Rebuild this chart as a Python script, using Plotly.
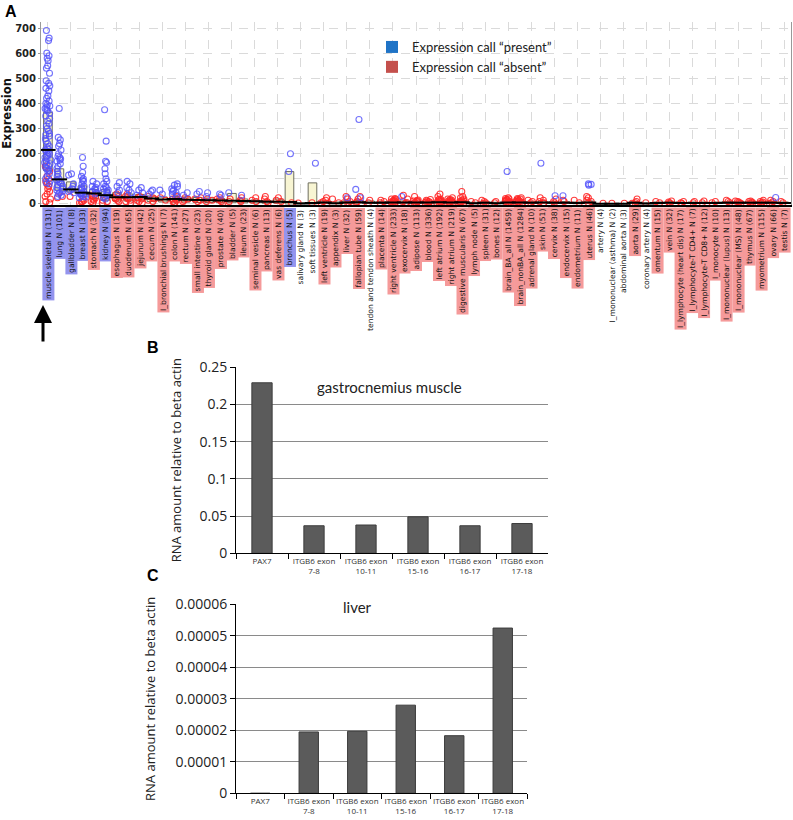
import plotly.graph_objects as go

# ---------------- Panel A data ----------------
categories = [
    "muscle skeletal N (131)", "lung N (101)", "gallbladder N (8)", "breast N (33)", "stomach N (32)",
    "kidney N (94)", "esophagus N (19)", "duodenum N (65)", "jejunum N (42)", "cecum N (25)",
    "I_bronchial brushings N (7)", "colon N (141)", "rectum N (27)", "small intestine N (23)",
    "thyroid gland N (20)", "prostate N (40)", "bladder N (5)", "ileum N (23)", "seminal vesicle N (6)",
    "pancreas N (13)", "vas deferens N (6)", "bronchus N (5)", "salivary gland N (3)", "soft tissues N (3)",
    "left ventricle N (19)", "appendix N (3)", "liver N (32)", "fallopian tube N (59)",
    "tendon and tendon sheath N (4)", "placenta N (14)", "right ventricle N (233)", "exocervix N (18)",
    "adipose N (113)", "blood N (336)", "left atrium N (192)", "right atrium N (219)",
    "digestive muscularis N (67)", "lymph node N (5)", "spleen N (31)", "bones N (12)",
    "brain_BA_all N (1459)", "brain_nonBA_all N (1284)", "adrenal gland N (10)", "skin N (51)",
    "cervix N (38)", "endocervix N (15)", "endometrium N (11)", "uterus N (46)", "artery N (4)",
    "I_mononuclear (asthma) N (2)", "abdominal aorta N (3)", "aorta N (29)", "coronary artery N (4)",
    "omentum N (15)", "vein N (32)", "I_lymphocyte (heart dis) N (17)", "I_lymphocyte-T CD4+ N (7)",
    "I_lymphocyte-T CD8+ N (12)", "I_monocyte N (10)", "I_mononuclear (lupus) N (13)",
    "I_mononuclear (MS) N (48)", "thymus N (67)", "myometrium N (115)", "ovary N (66)", "testis N (7)",
]
# p = call "present" (blue label), a = "absent" (red label), n = no label colour
call_class = list("ppppapaaaaaaaaaaaaaaapnnaaaanaaaaaaaaaaaaaaaaaaannnanaaaaaaaaaaaa")

box_q1 = [132, 55, 48, 30, 22, 15, 12, 12, 12, 10, 8, 8, 8, 6, 6, 5, 5, 5, 4, 3, 3, 0, 1, 0,
          2, 1, 2, 3, 2, 2, 3, 3, 3, 3, 3, 3, 3, 1, 2, 1, 3, 3, 2, 3, 2, 2, 1, 3, 0, 0, 0, 2, 1,
          1, 2, 2, 2, 2, 2, 2, 2, 2, 2, 2, 2]
box_med = [215, 98, 58, 45, 42, 35, 27, 27, 28, 22, 18, 20, 17, 16, 15, 14, 13, 12, 11, 9, 9, 8, 2, 4,
           6, 3, 6, 7, 5, 5, 6, 6, 6, 6, 7, 6, 7, 3, 5, 3, 6, 6, 5, 6, 5, 5, 4, 6, 1, 1, 1, 5, 2,
           4, 5, 4, 4, 4, 4, 5, 5, 5, 5, 5, 4]
box_q3 = [365, 140, 88, 72, 58, 57, 45, 40, 38, 32, 28, 30, 28, 26, 24, 22, 42, 20, 16, 14, 20, 129, 5, 84,
          12, 8, 12, 14, 12, 10, 12, 12, 12, 11, 14, 12, 14, 7, 10, 7, 12, 12, 10, 12, 10, 10, 8, 12, 2, 2, 2,
          10, 4, 8, 9, 8, 8, 8, 8, 10, 9, 9, 10, 10, 8]

present_vals = [
    [690, 660, 650, 600, 590, 580, 570, 550, 540, 520, 490, 480, 470, 460, 450, 430, 420, 410, 400, 395,
     390, 385, 380, 375, 370, 360, 350, 340, 330, 320, 310, 300, 290, 280, 275, 270, 260, 250, 240, 230,
     225, 220, 215, 210, 205, 200, 195, 190, 185, 180, 175, 170, 165, 160, 155, 150, 145, 140, 135, 130,
     120, 110, 100, 90, 85, 80],
    [380, 265, 255, 240, 230, 215, 200, 190, 185, 180, 175, 170, 160, 150, 140, 130, 120, 110, 100, 95,
     90, 85, 80, 75, 70, 65, 60, 55, 50, 45, 40, 35, 30],
    [120, 115, 80, 70, 60, 55, 50, 45],
    [185, 150, 125, 110, 100, 95, 90, 80, 70, 65, 60, 55, 50, 45, 42, 40, 38, 35, 30, 28, 25],
    [90, 80, 70, 65, 60, 55, 50, 45, 40],
    [375, 250, 170, 165, 140, 120, 100, 90, 80, 70, 65, 60, 55, 50, 45, 40, 35, 30, 25, 20],
    [85, 70, 55, 45], [90, 80, 65, 55, 45, 35], [65, 55, 45, 35], [55, 50, 40], [55, 40],
    [80, 75, 70, 60, 55, 50, 45, 40, 35], [45, 35], [50, 40], [45, 30], [40, 35], [45], [35], [], [], [],
    [200, 129], [], [162], [], [], [25], [336, 58, 25], [], [], [], [30], [], [], [], [], [], [], [], [],
    [129], [], [], [162], [33], [33], [], [80, 78, 75], [], [], [], [], [], [], [], [], [], [], [], [],
    [], [], [], [26], [],
]
absent_vals = [
    [150, 130, 110, 100, 90, 80, 70, 60, 50, 40, 30, 20, 10, 5],
    [30, 25], [30], [20, 15, 10, 8, 5], [35, 30, 25, 20, 15, 10, 5], [15, 10, 5],
    [40, 30, 25, 20, 15, 10], [40, 30, 25, 20, 15, 10, 5], [30, 25, 20, 15, 10, 5], [30, 25, 20, 15, 10],
    [25, 15], [30, 25, 20, 15, 10, 5, 3], [25, 20, 15, 10], [25, 20, 15, 10], [20, 15, 10],
    [25, 20, 15, 10, 5], [20, 10], [25, 15, 10], [25, 15, 10], [30, 20, 10, 5], [25, 15, 10], [5], [4], [5],
    [25, 15, 10, 5, 3], [20, 5], [30, 20, 10, 5, 3], [30, 20, 10, 6, 3], [15, 5], [15, 10, 5],
    [22, 20, 18, 16, 14, 12, 10, 8, 6, 4, 2],
    [35, 20, 10, 6, 3], [30, 16, 14, 12, 10, 8, 6, 4, 2], [18, 15, 12, 10, 8, 6, 4, 2],
    [40, 30, 20, 18, 16, 14, 12, 10, 8, 6, 4, 2], [25, 20, 18, 16, 14, 12, 10, 8, 6, 4, 2],
    [50, 30, 25, 20, 15, 12, 10, 8, 6, 4, 2], [10, 5], [15, 10, 5, 3], [10, 5],
    [25, 22, 20, 18, 16, 14, 12, 10, 8, 6, 4, 2], [25, 22, 20, 18, 16, 14, 12, 10, 8, 6, 4, 2],
    [15, 10, 5], [25, 15, 10, 5, 3], [20, 10, 5], [15, 10], [15, 5], [30, 25, 15, 10, 5], [3], [3], [3],
    [20, 10, 5, 3], [5], [10, 5], [12, 8, 5, 3], [10, 5, 3], [10, 5], [12, 5], [10, 5], [15, 10, 5],
    [12, 10, 8, 5, 3], [12, 10, 8, 5, 3], [15, 10, 8, 5, 3], [15, 10, 5, 3], [10, 5],
]
a_ticks = [0, 100, 200, 300, 400, 500, 600, 700]

# ---------------- Panel B / C data ----------------
genes = ["PAX7", "ITGB6 exon<br>7-8", "ITGB6 exon<br>10-11", "ITGB6 exon<br>15-16",
         "ITGB6 exon<br>16-17", "ITGB6 exon<br>17-18"]
muscle_vals = [0.229, 0.037, 0.038, 0.049, 0.037, 0.040]
liver_vals = [0.0, 0.0000195, 0.0000197, 0.000028, 0.0000183, 0.0000525]
b_ticks = [0, 0.05, 0.1, 0.15, 0.2, 0.25]
c_ticks = [0, 0.00001, 0.00002, 0.00003, 0.00004, 0.00005, 0.00006]
c_tick_text = ["0", "0.00001", "0.00002", "0.00003", "0.00004", "0.00005", "0.00006"]

W, H = 793, 820
def px_x(p): return p / W
def px_y(p): return 1 - p / H

fig = go.Figure()

# points (jittered by the box trace)
px_list, py_list, ax_list, ay_list = [], [], [], []
for c, pv, av in zip(categories, present_vals, absent_vals):
    px_list += [c] * len(pv); py_list += pv
    ax_list += [c] * len(av); ay_list += av

for xs, ys, col in [(ax_list, ay_list, "rgba(255,40,40,0.9)"), (px_list, py_list, "rgba(80,80,250,0.8)")]:
    fig.add_trace(go.Box(
        x=xs, y=ys, boxpoints="all", jitter=0.65, pointpos=0, width=0.9,
        line=dict(width=0, color="rgba(0,0,0,0)"), fillcolor="rgba(0,0,0,0)",
        marker=dict(symbol="circle-open", size=6, color=col, line=dict(width=1.1, color=col)),
        showlegend=False, hoverinfo="y", xaxis="x", yaxis="y"))

# boxes
fig.add_trace(go.Bar(
    x=categories, y=[q3 - q1 for q1, q3 in zip(box_q1, box_q3)], base=box_q1, width=0.75,
    marker=dict(color="rgba(246,242,196,0.75)", line=dict(color="rgb(110,110,95)", width=1)),
    showlegend=False, xaxis="x", yaxis="y"))
# medians
fig.add_trace(go.Scatter(
    x=categories, y=box_med, mode="markers",
    marker=dict(symbol="line-ew", size=11, line=dict(width=2, color="black")),
    showlegend=False, xaxis="x", yaxis="y"))

# legend dummies
fig.add_trace(go.Scatter(x=[None], y=[None], mode="markers", name="Expression call “present”",
                         marker=dict(symbol="square", size=13, color="#1f73c6"), xaxis="x", yaxis="y"))
fig.add_trace(go.Scatter(x=[None], y=[None], mode="markers", name="Expression call “absent”",
                         marker=dict(symbol="square", size=13, color="#c4504c"), xaxis="x", yaxis="y"))

# Panel B
fig.add_trace(go.Bar(x=genes, y=muscle_vals, width=0.39, xaxis="x2", yaxis="y2", showlegend=False,
                     marker=dict(color="#5b5b5b", line=dict(color="#3c3c3c", width=1))))
# Panel C
fig.add_trace(go.Bar(x=genes, y=liver_vals, width=0.40, xaxis="x3", yaxis="y3", showlegend=False,
                     marker=dict(color="#5b5b5b", line=dict(color="#3c3c3c", width=1))))

label_bg = {"p": "#9494ee", "a": "#f59a9a", "n": "rgba(0,0,0,0)"}
annotations = []
for c, cls in zip(categories, call_class):
    annotations.append(dict(
        x=c, xref="x", y=px_y(207), yref="paper", text=c, textangle=-90, showarrow=False,
        xanchor="center", yanchor="top", bgcolor=label_bg[cls], borderpad=1,
        font=dict(family="DejaVu Sans", size=7.6, color="#111")))

annotations += [
    dict(text="<b>A</b>", x=px_x(3), y=px_y(1), xref="paper", yref="paper", xanchor="left",
         yanchor="top", showarrow=False, font=dict(family="Liberation Sans", size=16, color="black")),
    dict(text="<b>B</b>", x=px_x(145), y=px_y(337), xref="paper", yref="paper", xanchor="left",
         yanchor="top", showarrow=False, font=dict(family="Liberation Sans", size=16, color="black")),
    dict(text="<b>C</b>", x=px_x(145), y=px_y(565), xref="paper", yref="paper", xanchor="left",
         yanchor="top", showarrow=False, font=dict(family="Liberation Sans", size=16, color="black")),
    dict(text="gastrocnemius muscle", x=px_x(389), y=px_y(387), xref="paper", yref="paper",
         showarrow=False, font=dict(family="Lato", size=15, color="#222")),
    dict(text="liver", x=px_x(357), y=px_y(618), xref="paper", yref="paper",
         showarrow=False, font=dict(family="Lato", size=15, color="#222")),
    dict(text="", x=px_x(43), y=px_y(305), xref="paper", yref="paper", ax=0, ay=38,
         showarrow=True, arrowhead=2, arrowsize=1.2, arrowwidth=3, arrowcolor="black"),
]

grid_a = "rgb(218,218,218)"
tick_bc = dict(family="Open Sans", size=8, color="#333")
fig.update_layout(
    width=W, height=H, margin=dict(l=0, r=0, t=0, b=0, autoexpand=False),
    paper_bgcolor="white", plot_bgcolor="white",
    barmode="overlay", boxmode="overlay",
    font=dict(family="Open Sans", color="#222"),
    showlegend=True,
    legend=dict(x=px_x(372), y=px_y(32), xanchor="left", yanchor="top", bgcolor="rgba(0,0,0,0)",
                font=dict(family="Lato", size=13, color="#222"), itemsizing="constant",
                tracegroupgap=0, itemwidth=30),
    xaxis=dict(domain=[px_x(41), px_x(791)], anchor="y", type="category", automargin=False,
               categoryorder="array", categoryarray=categories, showticklabels=False,
               showgrid=True, gridcolor=grid_a, griddash="dash", gridwidth=1,
               showline=True, linecolor="black", linewidth=2, mirror=False, ticks="",
               range=[-0.6, len(categories) - 0.4]),
    yaxis=dict(domain=[px_y(205), px_y(22)], anchor="x", range=[-4, 724], tickvals=a_ticks,
               automargin=False,
               showgrid=True, gridcolor=grid_a, griddash="dash", zeroline=False,
               showline=True, linecolor="#999", mirror=True, ticks="outside", ticklen=2,
               tickcolor="#999",
               tickfont=dict(family="DejaVu Sans", size=10, color="#222", weight="bold"),
               title=dict(text="Expression", standoff=2,
                          font=dict(family="DejaVu Sans", size=11.5, color="#111", weight="bold"))),
    xaxis2=dict(domain=[px_x(236), px_x(548)], anchor="y2", type="category", tickson="boundaries",
                automargin=False, tickangle=0,
                ticks="outside", ticklen=5, tickcolor="black", showline=True, linecolor="black",
                tickfont=tick_bc, showgrid=False),
    yaxis2=dict(domain=[px_y(553.3), px_y(367)], anchor="x2", range=[0, 0.2502], tickvals=b_ticks,
                automargin=False,
                showgrid=True, gridcolor="#8a8a8a", gridwidth=1, zeroline=False,
                showline=True, linecolor="black", ticks="outside", ticklen=5, tickcolor="black",
                tickfont=dict(family="Open Sans", size=14, color="#222"),
                title=dict(text="RNA amount relative to beta actin", standoff=14,
                           font=dict(family="Open Sans", size=13, color="#222"))),
    xaxis3=dict(domain=[px_x(236), px_x(527)], anchor="y3", type="category", tickson="boundaries",
                automargin=False, tickangle=0,
                ticks="outside", ticklen=5, tickcolor="black", showline=True, linecolor="black",
                tickfont=tick_bc, showgrid=False),
    yaxis3=dict(domain=[px_y(793.3), px_y(604.3)], anchor="x3", range=[0, 0.00006005],
                tickvals=c_ticks, ticktext=c_tick_text, automargin=False,
                showgrid=True, gridcolor="#8a8a8a", gridwidth=1, zeroline=False,
                showline=True, linecolor="black", ticks="outside", ticklen=5, tickcolor="black",
                tickfont=dict(family="Open Sans", size=14, color="#222"),
                title=dict(text="RNA amount relative to beta actin", standoff=16,
                           font=dict(family="Open Sans", size=13, color="#222"))),
    annotations=annotations,
)

fig.write_html("out.html", config={"displayModeBar": False},
               post_script="document.body.style.margin='0px';document.body.style.overflow='hidden';")
